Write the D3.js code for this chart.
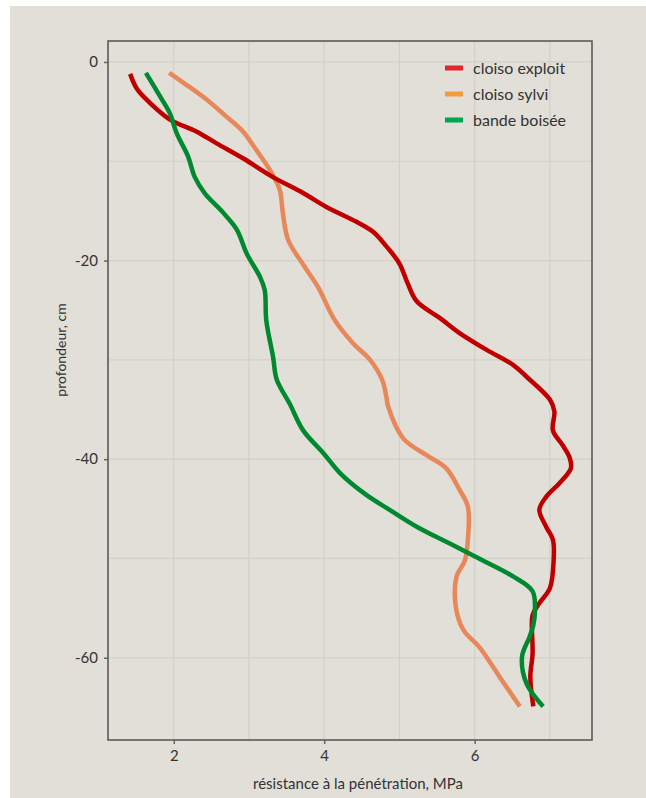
<!DOCTYPE html>
<html>
  <head>
    <meta charset="utf-8">
    <title>Résistance à la pénétration</title>
    <script src="https://cdn.jsdelivr.net/npm/d3@7"></script>
    <style>
      body { margin: 0; background: #fff; }
      text { font-family: Lato, "Open Sans", sans-serif; fill: #333; }
    </style>
  </head>
  <body>
    <svg width="646" height="798" id="mainsvg"></svg>
    <script>
        // series names
        const seriesNames = ['cloiso exploit', 'cloiso sylvi', 'bande boisée'];

        // cloiso exploit : profondeur (cm) et résistance (MPa)
        const exploitDepth = [-1.2, -2.7, -4.1, -5.8, -7.0, -8.2, -9.7, -11.6, -13.2, -14.6, -16.1, -17.1, -18.6, -20.3, -22.3, -24.1, -25.8, -27.3, -29.0, -30.5, -31.7, -34.0, -35.2, -37.1, -38.6, -39.8, -40.9, -42.4, -43.8, -45.1, -46.8, -48.1, -50.2, -53.0, -54.5, -55.7, -56.5, -59.6, -61.9, -64.9];
        const exploitValue = [1.42, 1.51, 1.68, 1.95, 2.30, 2.57, 2.92, 3.32, 3.72, 4.03, 4.43, 4.65, 4.83, 5.00, 5.11, 5.23, 5.54, 5.80, 6.16, 6.51, 6.69, 7.00, 7.06, 7.04, 7.17, 7.26, 7.28, 7.13, 6.95, 6.86, 6.95, 7.04, 7.05, 7.00, 6.86, 6.77, 6.76, 6.77, 6.74, 6.78];

        // cloiso sylvi
        const sylviDepth = [-1.1, -2.1, -3.8, -5.5, -7.0, -8.9, -10.9, -12.9, -15.2, -17.9, -20.4, -22.7, -26.0, -28.3, -30.0, -32.0, -33.9, -34.7, -37.9, -39.6, -40.9, -43.1, -44.8, -48.1, -50.2, -51.8, -54.9, -57.2, -59.0, -61.9, -64.9];
        const sylviValue = [1.94, 2.13, 2.44, 2.70, 2.92, 3.10, 3.28, 3.41, 3.45, 3.52, 3.72, 3.92, 4.14, 4.38, 4.61, 4.77, 4.83, 4.85, 5.05, 5.36, 5.62, 5.80, 5.91, 5.91, 5.87, 5.76, 5.75, 5.85, 6.07, 6.33, 6.60];

        // bande boisée
        const boiseeDepth = [-1.1, -3.5, -5.2, -7.2, -9.5, -11.6, -13.2, -15.2, -16.9, -19.3, -21.7, -23.0, -26.0, -29.7, -32.0, -34.4, -37.1, -39.4, -41.4, -43.6, -45.1, -46.8, -48.5, -50.2, -51.8, -53.3, -55.5, -56.7, -57.9, -59.9, -62.6, -64.9];
        const boiseeValue = [1.63, 1.82, 1.95, 2.04, 2.19, 2.28, 2.41, 2.66, 2.84, 2.97, 3.15, 3.21, 3.23, 3.32, 3.37, 3.54, 3.72, 3.99, 4.21, 4.56, 4.87, 5.23, 5.67, 6.11, 6.51, 6.77, 6.80, 6.78, 6.73, 6.63, 6.69, 6.91];

        // ticks
        const xTicks = [2, 4, 6];
        const yTicks = [0, -20, -40, -60];
        const xGrid = [2, 3, 4, 5, 6, 7];
        const yGrid = [0, -10, -20, -30, -40, -50, -60];

        const svg = d3.select('#mainsvg');
        const width = +svg.attr('width');
        const height = +svg.attr('height');

        // fond beige
        svg.append('rect').attr('x', 10).attr('y', 6)
          .attr('width', width - 10).attr('height', height - 6)
          .attr('fill', '#e1dfd7');

        const margin = {top: 41, left: 108, right: 54, bottom: 58};
        const innerWidth = width - margin.left - margin.right;
        const innerHeight = height - margin.top - margin.bottom;

        const g = svg.append('g').attr('id', 'maingroup')
          .attr('transform', `translate(${margin.left}, ${margin.top})`);

        const xScale = d3.scaleLinear().domain([1.126, 7.56]).range([0, innerWidth]);
        const yScale = d3.scaleLinear().domain([2.11, -68.28]).range([0, innerHeight]);

        // grille
        g.selectAll('.vgrid').data(xGrid).join('line').attr('class', 'vgrid')
          .attr('x1', d => xScale(d)).attr('x2', d => xScale(d))
          .attr('y1', 0).attr('y2', innerHeight)
          .attr('stroke', '#d3d0c8').attr('stroke-width', 1.2);
        g.selectAll('.hgrid').data(yGrid).join('line').attr('class', 'hgrid')
          .attr('y1', d => yScale(d)).attr('y2', d => yScale(d))
          .attr('x1', 0).attr('x2', innerWidth)
          .attr('stroke', '#d3d0c8').attr('stroke-width', 1.2);

        // axes
        const fmt = d => String(d);
        const xAxis = d3.axisBottom(xScale).tickValues(xTicks).tickFormat(fmt).tickSize(4).tickPadding(6);
        const yAxis = d3.axisLeft(yScale).tickValues(yTicks).tickFormat(fmt).tickSize(4).tickPadding(6);
        const xg = g.append('g').call(xAxis).attr('transform', `translate(0, ${innerHeight})`);
        const yg = g.append('g').call(yAxis);
        [xg, yg].forEach(a => {
          a.select('.domain').remove();
          a.selectAll('.tick line').attr('stroke', '#666').attr('stroke-width', 1.5);
          a.selectAll('.tick text').attr('font-size', '15px').attr('fill', '#333')
            .attr('font-family', 'Lato, sans-serif');
        });

        // cadre
        g.append('rect').attr('width', innerWidth).attr('height', innerHeight)
          .attr('fill', 'none').attr('stroke', '#5a5a58').attr('stroke-width', 1.6);

        const line = d3.line()
          .x(d => xScale(d[0])).y(d => yScale(d[1]))
          .curve(d3.curveCatmullRom.alpha(0.5));

        const series = [
          {name: seriesNames[1], values: sylviValue, depth: sylviDepth, color: '#e8875a', legend: '#f39c3c'},
          {name: seriesNames[0], values: exploitValue, depth: exploitDepth, color: '#c00000', legend: '#e2262f'},
          {name: seriesNames[2], values: boiseeValue, depth: boiseeDepth, color: '#00892f', legend: '#00a54f'}
        ];

        series.forEach(s => {
          g.append('path')
            .datum(s.values.map((v, i) => [v, s.depth[i]]))
            .attr('d', line)
            .attr('fill', 'none')
            .attr('stroke', s.color)
            .attr('stroke-width', 4.5)
            .attr('stroke-linejoin', 'round');
        });

        // légende
        const legendOrder = [series[1], series[0], series[2]];
        const legend = svg.append('g').attr('transform', 'translate(445, 68)');
        legendOrder.forEach((s, i) => {
          legend.append('rect').attr('x', 0).attr('y', i * 26 - 2.5)
            .attr('width', 18).attr('height', 5).attr('fill', s.legend);
          legend.append('text').text(s.name).attr('x', 28).attr('y', i * 26)
            .attr('dy', '0.35em').attr('font-size', '16px');
        });

        // titres des axes
        svg.append('text').text('résistance à la pénétration, MPa')
          .attr('x', 358).attr('y', 789).attr('text-anchor', 'middle').attr('font-size', '15px');
        svg.append('text').text('profondeur, cm')
          .attr('transform', 'translate(66, 350) rotate(-90)')
          .attr('text-anchor', 'middle').attr('font-size', '14px');
    </script>
  </body>
</html>
